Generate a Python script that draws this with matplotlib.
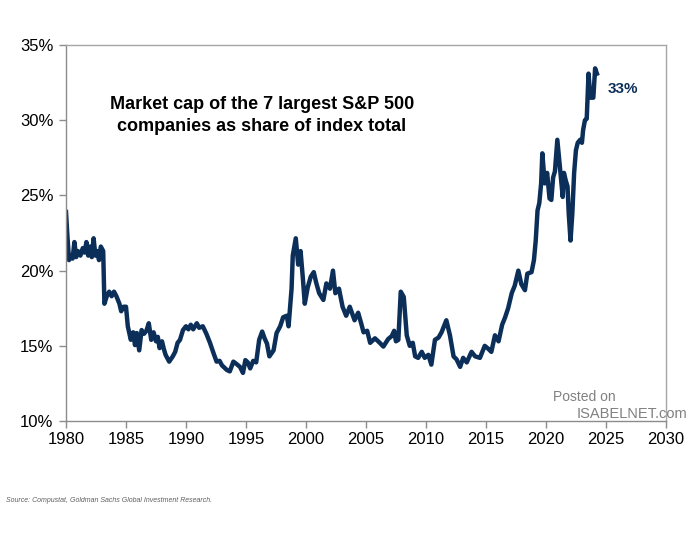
import matplotlib.pyplot as plt
from matplotlib.ticker import FuncFormatter

plt.rcParams['font.family'] = ['Liberation Sans', 'DejaVu Sans']

years = [
    1980.0, 1980.1, 1980.25, 1980.4, 1980.55, 1980.7, 1980.85, 1981.0, 1981.2, 1981.4,
    1981.55, 1981.7, 1981.85, 1982.0, 1982.15, 1982.3, 1982.45, 1982.6, 1982.75, 1982.9,
    1983.1, 1983.2, 1983.4, 1983.6, 1983.8, 1984.0, 1984.2, 1984.45, 1984.6, 1984.8,
    1985.0, 1985.15, 1985.4, 1985.6, 1985.75, 1985.9, 1986.1, 1986.3, 1986.5, 1986.7,
    1986.9, 1987.1, 1987.3, 1987.5, 1987.65, 1987.8, 1988.0, 1988.15, 1988.3, 1988.6,
    1988.9, 1989.1, 1989.3, 1989.5, 1989.75, 1990.0, 1990.2, 1990.4, 1990.6, 1990.9,
    1991.1, 1991.4, 1991.7, 1992.0, 1992.3, 1992.55, 1992.8, 1993.0, 1993.4, 1993.65,
    1993.95, 1994.2, 1994.5, 1994.75, 1994.95, 1995.15, 1995.35, 1995.6, 1995.85, 1996.1,
    1996.35, 1996.55, 1996.75, 1996.95, 1997.3, 1997.55, 1997.85, 1998.1, 1998.4, 1998.55,
    1998.8, 1998.9, 1999.15, 1999.35, 1999.55, 1999.75, 1999.9, 2000.15, 2000.4, 2000.65,
    2000.85, 2001.1, 2001.45, 2001.7, 2002.0, 2002.25, 2002.45, 2002.75, 2003.05, 2003.35,
    2003.65, 2004.05, 2004.35, 2004.6, 2004.8, 2005.1, 2005.35, 2005.75, 2006.15, 2006.45,
    2006.85, 2007.15, 2007.35, 2007.5, 2007.7, 2007.9, 2008.15, 2008.4, 2008.65, 2008.9,
    2009.1, 2009.35, 2009.65, 2009.9, 2010.2, 2010.45, 2010.75, 2011.05, 2011.3, 2011.7,
    2012.0, 2012.3, 2012.55, 2012.85, 2013.1, 2013.4, 2013.8, 2014.1, 2014.5, 2014.9,
    2015.2, 2015.45, 2015.75, 2016.05, 2016.35, 2016.6, 2016.85, 2017.15, 2017.4, 2017.7,
    2017.95, 2018.25, 2018.45, 2018.8, 2019.0, 2019.15, 2019.3, 2019.45, 2019.6, 2019.7,
    2019.9, 2020.1, 2020.3, 2020.45, 2020.6, 2020.75, 2020.95, 2021.15, 2021.4, 2021.5,
    2021.65, 2021.8, 2021.9, 2022.05, 2022.2, 2022.35, 2022.5, 2022.65, 2022.85, 2023.0,
    2023.1, 2023.25, 2023.4, 2023.55, 2023.7, 2023.95, 2024.1, 2024.25,
]
share = [
    23.9, 22.5, 20.7, 21.0, 20.8, 21.9, 20.9, 21.3, 21.0, 21.5,
    21.2, 21.9, 21.0, 21.6, 20.9, 22.15, 21.0, 21.3, 20.7, 21.6,
    21.3, 17.8, 18.3, 18.6, 18.3, 18.6, 18.3, 17.8, 17.3, 17.6,
    17.6, 16.3, 15.4, 15.9, 15.05, 15.85, 14.7, 16.05, 15.8, 16.0,
    16.5, 15.4, 15.9, 15.3, 15.6, 14.85, 15.3, 14.8, 14.4, 13.95,
    14.3, 14.6, 15.2, 15.4, 16.05, 16.3, 16.1, 16.4, 16.1, 16.5,
    16.2, 16.3, 15.8, 15.2, 14.5, 13.95, 14.0, 13.7, 13.4, 13.3,
    13.95, 13.8, 13.6, 13.2, 14.05, 13.9, 13.5, 14.0, 13.9, 15.4,
    15.95, 15.5, 15.15, 14.3, 14.7, 15.85, 16.3, 16.9, 17.0, 16.3,
    18.8, 21.0, 22.15, 20.4, 21.3, 19.4, 17.8, 18.9, 19.6, 19.9,
    19.2, 18.5, 18.05, 19.15, 18.8, 20.0, 18.5, 18.8, 17.6, 17.0,
    17.6, 16.7, 17.2, 16.5, 15.9, 16.0, 15.2, 15.5, 15.2, 14.95,
    15.45, 15.65, 16.0, 15.3, 15.4, 18.6, 18.25, 15.7, 15.0, 15.2,
    14.3, 14.2, 14.6, 14.2, 14.4, 13.75, 15.4, 15.55, 15.9, 16.7,
    15.7, 14.3, 14.1, 13.6, 14.2, 13.9, 14.6, 14.3, 14.2, 15.0,
    14.8, 14.6, 15.7, 15.3, 16.4, 16.9, 17.5, 18.5, 19.0, 20.0,
    19.1, 18.7, 19.8, 19.9, 20.7, 22.0, 24.0, 24.5, 25.8, 27.8,
    25.8, 26.5, 24.8, 24.7, 26.2, 26.6, 28.7, 27.0, 24.9, 26.5,
    26.0, 25.6, 23.8, 22.0, 23.8, 26.5, 28.0, 28.5, 28.7, 28.5,
    29.35, 30.0, 30.1, 33.1, 31.5, 31.5, 33.45, 33.1,
]

x_ticks = [1980, 1985, 1990, 1995, 2000, 2005, 2010, 2015, 2020, 2025, 2030]
y_ticks = [10, 15, 20, 25, 30, 35]

navy = '#0c2f5a'
grey = '#8c8c8c'

fig = plt.figure(figsize=(7, 5.5), dpi=100)
ax = fig.add_axes([0.0943, 0.2345, 0.857, 0.6836])

ax.plot(years, share, color=navy, lw=3.2, solid_joinstyle='round')

ax.set_xlim(1980, 2030)
ax.set_ylim(10, 35)
ax.set_xticks(x_ticks)
ax.set_yticks(y_ticks)
ax.yaxis.set_major_formatter(FuncFormatter(lambda v, p: f'{v:.0f}%'))
ax.tick_params(axis='both', labelsize=12, color=grey, length=5, width=1,
               direction='out', pad=4)
ax.tick_params(axis='x', pad=3)
for s in ax.spines.values():
    s.set_color('#a6a6a6')
    s.set_linewidth(1)
ax.spines['left'].set_color(grey)
ax.spines['bottom'].set_color(grey)

ax.text(2026.4, 32.1, '33%', color=navy, fontsize=11, fontweight='bold',
        ha='center', va='center')

fig.text(0.374, 0.79, 'Market cap of the 7 largest S&P 500\ncompanies as share of index total',
         ha='center', va='center', fontsize=13, fontweight='bold', linespacing=1.35)

fig.text(0.79, 0.278, 'Posted on', color='#808080', fontsize=10, ha='left', va='center')
fig.text(0.824, 0.247, 'ISABELNET.com', color='#808080', fontsize=10.5, ha='left', va='center')

fig.text(0.008, 0.09, 'Source: Compustat, Goldman Sachs Global Investment Research.',
         color='#606060', fontsize=5, style='italic', ha='left', va='center')

fig.savefig('out.png', dpi=100)
